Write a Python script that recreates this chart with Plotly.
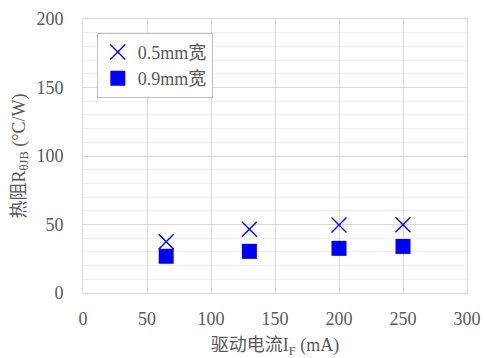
import plotly.graph_objects as go

current = [65, 130, 200, 250]
r_05mm = [37.4, 46.5, 49.6, 49.9]
r_09mm = [26.8, 30.4, 32.6, 34.0]
names = ["0.5mm宽", "0.9mm宽"]

font_fam = "Liberation Serif, Noto Sans CJK SC, serif"
grey = "#595959"
F = dict(family=font_fam, size=18, color=grey)
TF = dict(family="Liberation Serif", size=18, color=grey)

fig = go.Figure()
fig.add_trace(go.Scatter(x=current, y=r_05mm, mode="markers", name=names[0],
                         marker=dict(symbol="x-thin", size=15, color="#0000ff",
                                     line=dict(color="#0000ff", width=1.4))))
fig.add_trace(go.Scatter(x=current, y=r_09mm, mode="markers", name=names[1],
                         marker=dict(symbol="square", size=15, color="#0000ff")))

fig.update_layout(
    width=485, height=358,
    margin=dict(l=83, r=18, t=19, b=65, autoexpand=False),
    plot_bgcolor="white", paper_bgcolor="white",
    font=F,
    legend=dict(x=0.036, y=0.95, xanchor="left", yanchor="top",
                bordercolor="#bfbfbf", borderwidth=1, bgcolor="white",
                font=F, itemwidth=30,
                tracegroupgap=6),
    showlegend=True,
)
fig.update_xaxes(range=[0, 300], dtick=50, showgrid=True, gridcolor="#d9d9d9",
                 gridwidth=1, zeroline=False, showline=True, linecolor="#d9d9d9",
                 mirror=True, ticks="", ticklabelstandoff=9, automargin=False,
                 tickfont=TF,
                 title=dict(text="驱动电流I<sub>F</sub> (mA)", standoff=12, font=F))
fig.update_yaxes(range=[0, 200], dtick=50, showgrid=True, gridcolor="#d9d9d9",
                 gridwidth=1, zeroline=False, showline=True, linecolor="#d9d9d9",
                 mirror=True, ticks="", ticklabelstandoff=15, automargin=False,
                 tickfont=TF,
                 minor=dict(dtick=10, showgrid=True, gridcolor="#f0f0f0", gridwidth=1),
                 title=dict(text="热阻R<sub>θJB</sub> (°C/W)", standoff=6, font=F))

fig.write_html("out.html")
